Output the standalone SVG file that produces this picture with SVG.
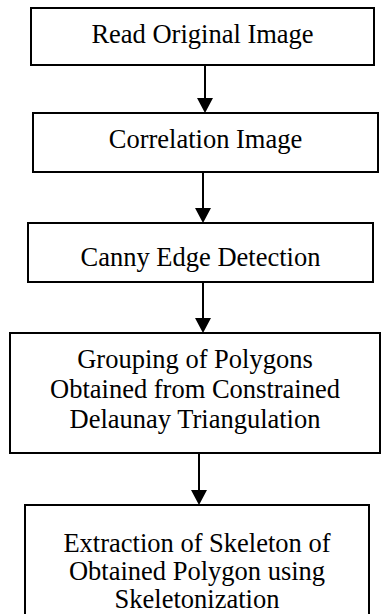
<svg xmlns="http://www.w3.org/2000/svg" width="381" height="614" viewBox="0 0 381 614">
<style>
.box{fill:#fff;stroke:#000;stroke-width:2}
.t{font-family:'Liberation Serif','Times New Roman','DejaVu Serif',serif;font-size:26.5px;fill:#000;text-anchor:middle}
.c{stroke:#000;stroke-width:2;fill:none}
.h{fill:#000}
</style>
<rect width="381" height="614" fill="#fff"/>
<g id="n1"><rect class="box" x="31" y="8" width="343" height="57"/><text class="t" x="202.5" y="43" font-family="Liberation Serif, serif">Read Original Image</text></g>
<g id="n2"><rect class="box" x="33" y="113" width="345" height="59"/><text class="t" x="205.5" y="148" font-family="Liberation Serif, serif">Correlation Image</text></g>
<g id="n3"><rect class="box" x="28" y="223" width="345" height="59"/><text class="t" x="200.5" y="266" font-family="Liberation Serif, serif">Canny Edge Detection</text></g>
<g id="n4"><rect class="box" x="10" y="333" width="370" height="120"/><text class="t" x="195" y="368" font-family="Liberation Serif, serif">Grouping of Polygons</text><text class="t" x="195" y="398" font-family="Liberation Serif, serif">Obtained from Constrained</text><text class="t" x="195" y="428" font-family="Liberation Serif, serif">Delaunay Triangulation</text></g>
<g id="n5"><rect class="box" x="25" y="505" width="344" height="115"/><text class="t" x="197" y="552" font-family="Liberation Serif, serif">Extraction of Skeleton of</text><text class="t" x="197" y="580" font-family="Liberation Serif, serif">Obtained Polygon using</text><text class="t" x="197" y="608" font-family="Liberation Serif, serif">Skeletonization</text></g>
<g id="connectors">
<line class="c" x1="205" y1="65" x2="205" y2="100"/><polygon class="h" points="197,98 213,98 205,113"/>
<line class="c" x1="203" y1="172" x2="203" y2="210"/><polygon class="h" points="195,208 211,208 203,223"/>
<line class="c" x1="203" y1="282" x2="203" y2="320"/><polygon class="h" points="195,318 211,318 203,333"/>
<line class="c" x1="199" y1="453" x2="199" y2="492"/><polygon class="h" points="191,490 207,490 199,505"/>
</g>
</svg>
